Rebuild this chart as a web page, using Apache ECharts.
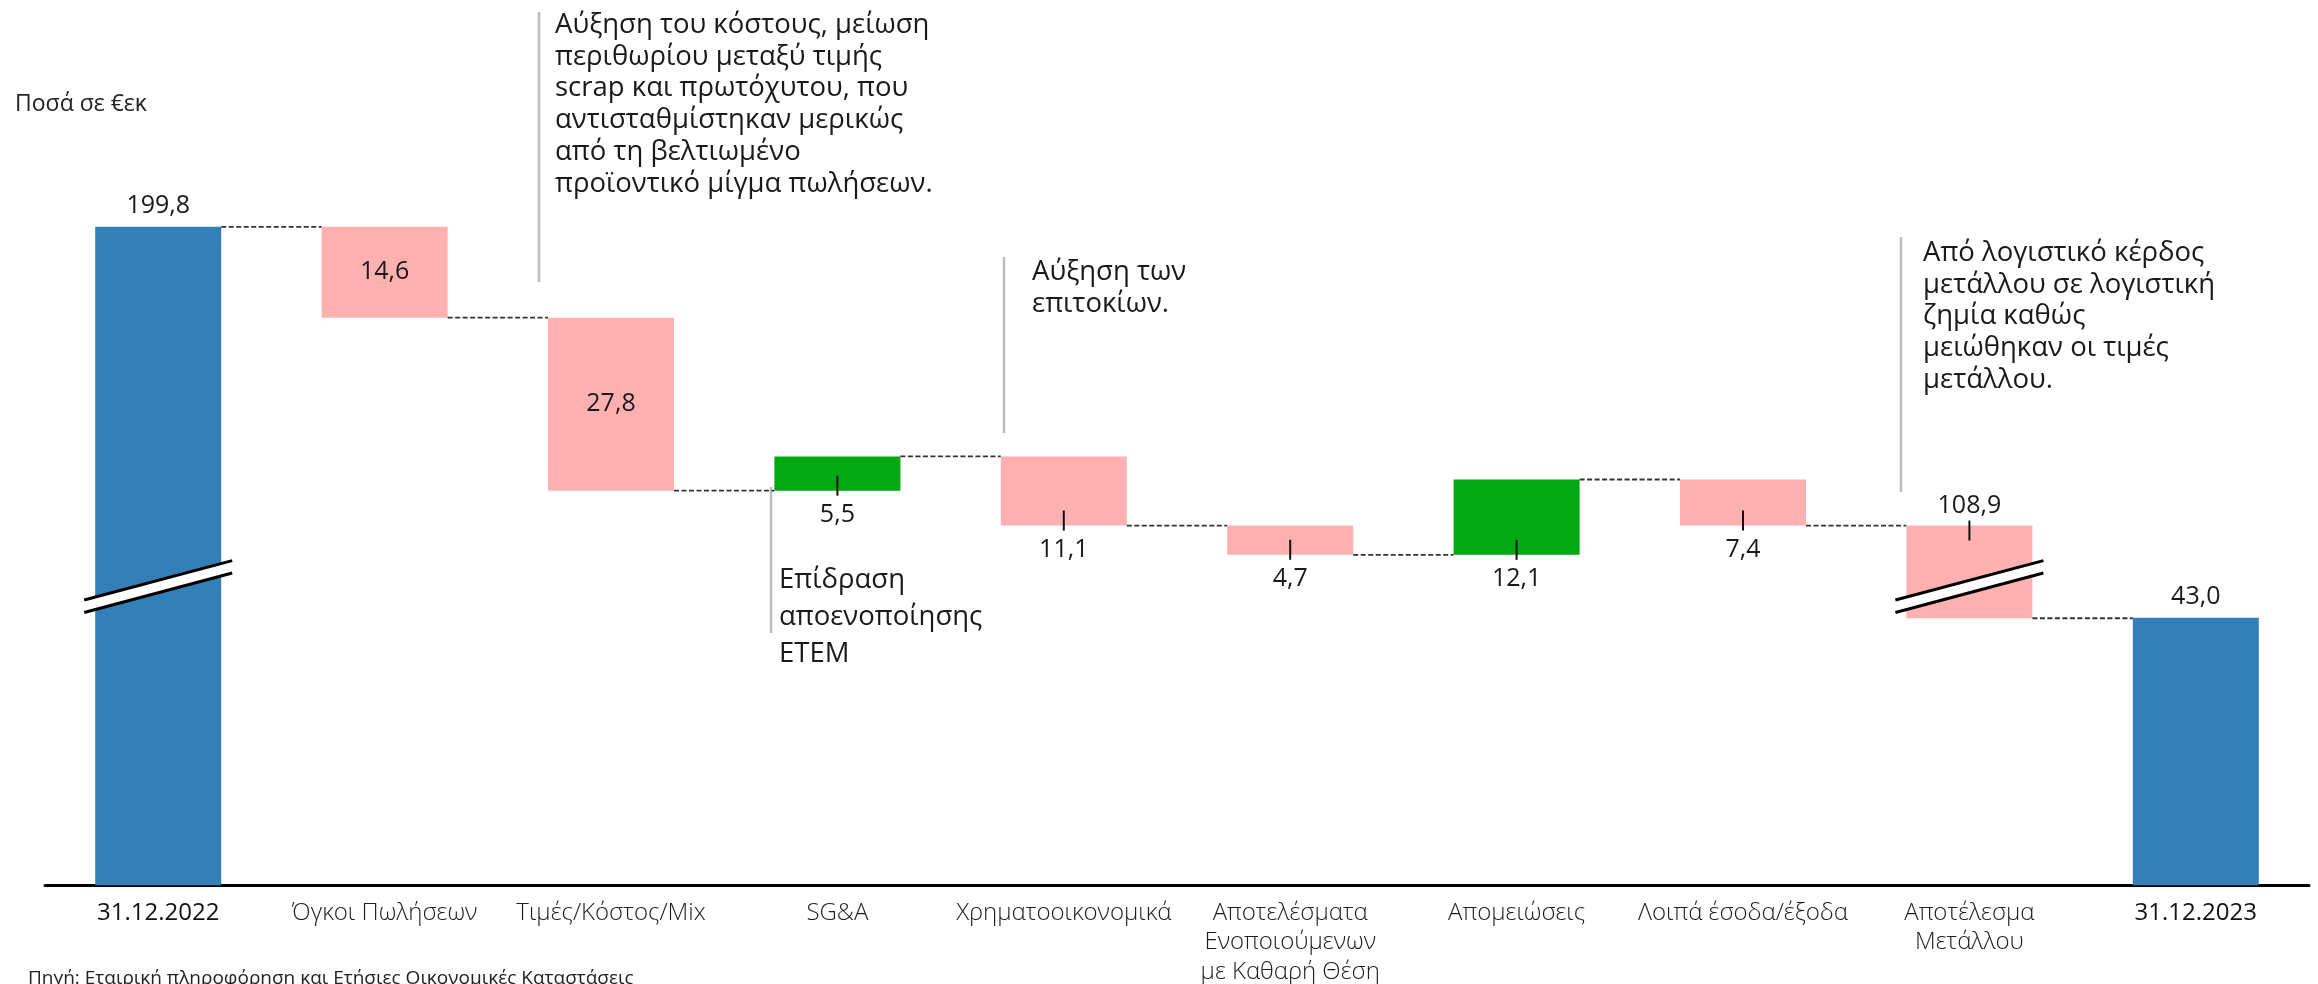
<!DOCTYPE html>
<html><head><meta charset="utf-8">
<script src="https://cdn.jsdelivr.net/npm/echarts@6/dist/echarts.min.js"></script>
<style>html,body{margin:0;padding:0;background:#fff}#c{width:2318px;height:984px}</style>
</head><body><div id="c"></div>
<script>
// ---------------- data ----------------
const categories = ['31.12.2022', 'Όγκοι Πωλήσεων', 'Τιμές/Κόστος/Mix', 'SG&A', 'Χρηματοοικονομικά',
  'Αποτελέσματα\nΕνοποιούμενων\nμε Καθαρή Θέση', 'Απομειώσεις', 'Λοιπά έσοδα/έξοδα', 'Αποτέλεσμα\nΜετάλλου', '31.12.2023'];
const openingValue = 199.8;
const changes = [-14.6, -27.8, 5.5, -11.1, -4.7, 12.1, -7.4, -108.9];
const closingValue = 43.0;
const valueLabels = ['199,8', '14,6', '27,8', '5,5', '11,1', '4,7', '12,1', '7,4', '108,9', '43,0'];
const labelPlacement = ['above', 'inside', 'inside', 'below', 'below', 'below', 'below', 'below', 'aboveTick', 'above'];
const brokenBars = [0, 8];
// axis break: values between breakFrom and breakTo are cut out of the axis
const breakFrom = 50, breakTo = 144;
const breakMarkAt = 48;
const axisMax = 140;

const FONT = '"Open Sans", "Noto Sans", sans-serif';
const colors = { total: '#3380B9', dec: '#FFB0B0', inc: '#00A811' };

function toAxis(v) { return v >= breakTo ? v - (breakTo - breakFrom) : v; }

// build waterfall items: [index, lowAxis, highAxis, kind(0 total,1 dec,2 inc), connectorLevelAxis]
const items = [];
let level = openingValue;
items.push([0, 0, toAxis(openingValue), 0, toAxis(openingValue)]);
changes.forEach((c, k) => {
  const prev = level; level = +(level + c).toFixed(2);
  items.push([k + 1, toAxis(Math.min(prev, level)), toAxis(Math.max(prev, level)), c < 0 ? 1 : 2, toAxis(level)]);
});
items.push([categories.length - 1, 0, toAxis(closingValue), 0, toAxis(closingValue)]);

const kindColor = [colors.total, colors.dec, colors.inc];
const barRatio = 0.5566;

function renderItem(params, api) {
  const i = api.value(0), lo = api.value(1), hi = api.value(2), kind = api.value(3), next = api.value(4);
  const w = api.size([1, 0])[0] * barRatio;
  const pLo = api.coord([i, lo]), pHi = api.coord([i, hi]);
  const cx = pLo[0], top = pHi[1], bottom = pLo[1];
  const children = [];
  children.push({ type: 'rect', shape: { x: cx - w / 2, y: top, width: w, height: bottom - top },
    style: { fill: kindColor[kind] } });
  // connector
  if (i < categories.length - 1) {
    const a = api.coord([i, next]), b = api.coord([i + 1, next]);
    children.push({ type: 'line', shape: { x1: a[0] + w / 2, y1: a[1], x2: b[0] - w / 2, y2: a[1] },
      style: { stroke: '#333', lineWidth: 1.8, lineDash: [5, 2.5] } });
  }
  // break marks
  if (brokenBars.indexOf(i) >= 0) {
    const cy = api.coord([i, breakMarkAt])[1];
    const hx = w / 2 + 11, dy = 19.7, off = 6.2;
    children.push({ type: 'polygon', shape: { points: [
      [cx - hx, cy + dy - off], [cx + hx, cy - dy - off], [cx + hx, cy - dy + off], [cx - hx, cy + dy + off]] },
      style: { fill: '#fff' } });
    children.push({ type: 'line', shape: { x1: cx - hx, y1: cy + dy - off, x2: cx + hx, y2: cy - dy - off },
      style: { stroke: '#000', lineWidth: 3 } });
    children.push({ type: 'line', shape: { x1: cx - hx, y1: cy + dy + off, x2: cx + hx, y2: cy - dy + off },
      style: { stroke: '#000', lineWidth: 3 } });
  }
  // labels
  const pl = labelPlacement[i];
  let ty;
  if (pl === 'above') ty = top - 21;
  else if (pl === 'inside') ty = (top + bottom) / 2;
  else if (pl === 'below') {
    ty = bottom + 24;
    children.push({ type: 'line', shape: { x1: cx, y1: bottom - 15, x2: cx, y2: bottom + 5 },
      style: { stroke: '#111', lineWidth: 2 } });
  } else {
    ty = top - 20;
    children.push({ type: 'line', shape: { x1: cx, y1: top - 5, x2: cx, y2: top + 15 },
      style: { stroke: '#111', lineWidth: 2 } });
  }
  children.push({ type: 'text', x: cx, y: ty, style: { text: valueLabels[i], align: 'center', verticalAlign: 'middle',
    fill: '#1a1a1a', fontSize: 25, fontFamily: FONT } });
  return { type: 'group', children };
}

function annotation(x, y1, y2, tx, ty, lines, lh) {
  return [
    { type: 'line', shape: { x1: x, y1: y1, x2: x, y2: y2 }, style: { stroke: '#bdbdbd', lineWidth: 2.5 } },
    { type: 'text', x: tx, y: ty, style: { text: lines.join('\n'), fill: '#1a1a1a', fontSize: 27.5, fontFamily: FONT,
      lineHeight: lh, verticalAlign: 'top', align: 'left' } }
  ];
}

const chart = echarts.init(document.getElementById('c'), null, { renderer: 'canvas' });
chart.setOption({
  animation: false,
  backgroundColor: '#fff',
  grid: { left: 45, right: 9, top: 14, bottom: 95, containLabel: false },
  xAxis: {
    type: 'category', data: categories,
    axisLine: { lineStyle: { color: '#000', width: 3 } },
    axisTick: { show: false },
    axisLabel: {
      interval: 0, margin: 13,
      formatter: (v, idx) => {
        const st = (idx === 0 || idx === categories.length - 1) ? 'd' : 'n';
        return v.split('\n').map(s => '{' + st + '|' + s + '}').join('\n');
      },
      rich: {
        d: { fontSize: 24, fontFamily: FONT, color: '#111', lineHeight: 30, fontWeight: 500 },
        n: { fontSize: 24, fontFamily: FONT, color: '#1e1e1e', lineHeight: 29.5, fontWeight: 300 }
      }
    }
  },
  yAxis: { type: 'value', min: 0, max: axisMax, show: false, splitLine: { show: false } },
  series: [{ type: 'custom', renderItem, data: items, encode: { x: 0, y: [1, 2] }, clip: false }],
  graphic: [
    { type: 'text', x: 15, y: 104, style: { text: 'Ποσά σε €εκ', fill: '#222', fontSize: 23, fontFamily: FONT,
      verticalAlign: 'middle' } },
    { type: 'text', x: 28, y: 979, style: { text: 'Πηγή: Εταιρική πληροφόρηση και Ετήσιες Οικονομικές Καταστάσεις',
      fill: '#222', fontSize: 19, fontFamily: FONT, verticalAlign: 'middle' } },
    ...annotation(539, 12, 282, 555, 9, ['Αύξηση του κόστους, μείωση', 'περιθωρίου μεταξύ τιμής',
      'scrap και πρωτόχυτου, που', 'αντισταθμίστηκαν μερικώς', 'από τη βελτιωμένο', 'προϊοντικό μίγμα πωλήσεων.'], 31.8),
    ...annotation(1004, 257, 433, 1032, 256, ['Αύξηση των', 'επιτοκίων.'], 32),
    ...annotation(1901, 237, 492, 1923, 237, ['Από λογιστικό κέρδος', 'μετάλλου σε λογιστική', 'ζημία καθώς',
      'μειώθηκαν οι τιμές', 'μετάλλου.'], 31.8),
    ...annotation(771, 487, 633, 779, 562, ['Επίδραση', 'αποενοποίησης', 'ΕΤΕΜ'], 36.7)
  ]
});
</script></body></html>
